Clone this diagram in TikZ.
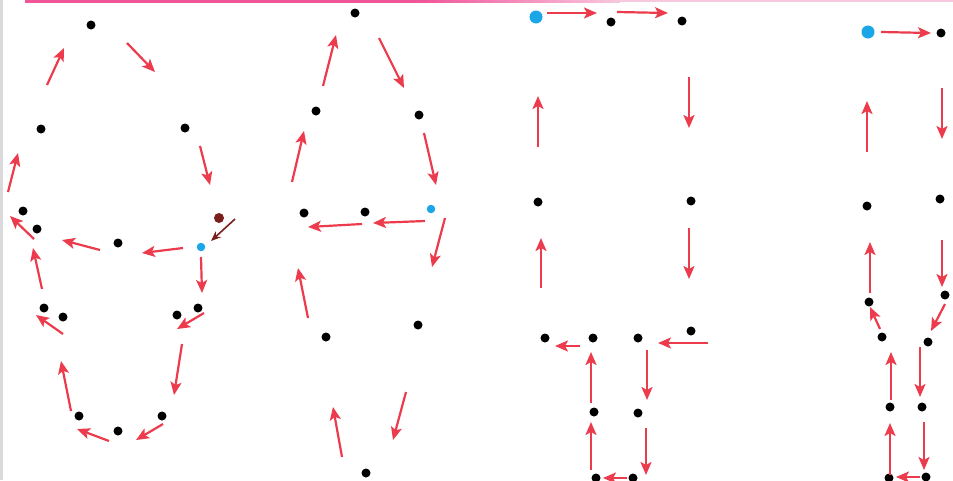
\documentclass[tikz,border=0pt]{standalone}
\usetikzlibrary{arrows.meta}
\definecolor{arrred}{HTML}{EC3B4C}
\definecolor{dotblue}{HTML}{1BA6E8}
\definecolor{dotbrown}{HTML}{7A1E1E}
\definecolor{barpink}{HTML}{F0559A}
\definecolor{barlight}{HTML}{F8C8DE}
\tikzset{
  dot/.style={circle,fill=black,inner sep=0pt,minimum size=9pt},
  bdot/.style={circle,fill=dotblue,inner sep=0pt,minimum size=8.5pt},
  bigbdot/.style={circle,fill=dotblue,inner sep=0pt,minimum size=13pt},
  brdot/.style={circle,fill=dotbrown,inner sep=0pt,minimum size=10pt},
  arr/.style={draw=arrred,line width=2.2pt,-{Stealth[length=13pt,width=11pt,inset=3pt]}},
  brarr/.style={draw=dotbrown,line width=1.6pt,-{Stealth[length=10pt,width=8pt]}}
}
\begin{document}
\begin{tikzpicture}[x=1pt,y=-1pt]
\useasboundingbox (0,0) rectangle (953,480);
\fill[white] (0,0) rectangle (953,480);
% top bar and left edge
\fill[barpink] (25,0) rectangle (420,2.5);
\shade[left color=barpink,right color=barlight] (420,0) rectangle (620,2.5);
\fill[barlight] (620,0) rectangle (953,1.5);
\fill[black!15] (0,0) rectangle (3,480);

% ===== Figure 1 =====
\node[dot] (a1) at (91,25) {};
\node[dot] (a2) at (41,129) {};
\node[dot] (a3) at (185,128) {};
\node[dot] (a4) at (23,211) {};
\node[dot] (a5) at (37,229) {};
\node[brdot] (a6) at (219,218) {};
\node[dot] (a7) at (118,243) {};
\node[bdot] (a8) at (201,247) {};
\node[dot] (a9) at (44,308) {};
\node[dot] (a10) at (63,317) {};
\node[dot] (a11) at (177,315) {};
\node[dot] (a12) at (198,308) {};
\node[dot] (a13) at (79,416) {};
\node[dot] (a14) at (162,416) {};
\node[dot] (a15) at (118,431) {};
\draw[arr] (47,85) -- (64,48);
\draw[arr] (127,43) -- (155,72);
\draw[arr] (200,146) -- (210,185);
\draw[arr] (8,192) -- (18,153);
\draw[arr] (34,239) -- (10,216);
\draw[brarr] (235,219) -- (211,241);
\draw[arr] (183,248) -- (142,253);
\draw[arr] (100,250) -- (62,240);
\draw[arr] (201,257) -- (202,293);
\draw[arr] (42,289) -- (33,248);
\draw[arr] (63,334) -- (36,315);
\draw[arr] (204,313) -- (177,329);
\draw[arr] (182,344) -- (174,395);
\draw[arr] (71,411) -- (61,361);
\draw[arr] (109,441) -- (77,429);
\draw[arr] (163,424) -- (136,440);

% ===== Figure 2 =====
\node[dot] (b1) at (355,13) {};
\node[dot] (b2) at (316,111) {};
\node[dot] (b3) at (419,115) {};
\node[dot] (b4) at (304,213) {};
\node[dot] (b5) at (365,212) {};
\node[bdot] (b6) at (431,209) {};
\node[dot] (b7) at (326,337) {};
\node[dot] (b8) at (418,325) {};
\node[dot] (b9) at (366,473) {};
\draw[arr] (323,86) -- (336,35);
\draw[arr] (379,38) -- (404,88);
\draw[arr] (424,133) -- (436,185);
\draw[arr] (292,182) -- (304,131);
\draw[arr] (425,221) -- (373,223);
\draw[arr] (362,224) -- (308,227);
\draw[arr] (445,218) -- (432,267);
\draw[arr] (308,318) -- (298,268);
\draw[arr] (406,392) -- (393,440);
\draw[arr] (342,457) -- (333,407);

% ===== Figure 3 =====
\node[bigbdot] (c1) at (536,17) {};
\node[dot] (c2) at (611,22) {};
\node[dot] (c3) at (682,21) {};
\node[dot] (c4) at (538,202) {};
\node[dot] (c5) at (691,201) {};
\node[dot] (c6) at (545,338) {};
\node[dot] (c7) at (593,338) {};
\node[dot] (c8) at (638,338) {};
\node[dot] (c9) at (691,331) {};
\node[dot] (c10) at (594,412) {};
\node[dot] (c11) at (638,413) {};
\node[dot] (c12) at (596,478) {};
\node[dot] (c13) at (633,478) {};
\draw[arr] (547,13) -- (597,13);
\draw[arr] (617,12) -- (668,13);
\draw[arr] (689,77) -- (689,128);
\draw[arr] (538,147) -- (538,96);
\draw[arr] (541,288) -- (541,238);
\draw[arr] (689,228) -- (689,279);
\draw[arr] (580,346) -- (555,346);
\draw[arr] (708,343) -- (658,343);
\draw[arr] (647,350) -- (647,400);
\draw[arr] (591,403) -- (591,352);
\draw[arr] (591,470) -- (591,422);
\draw[arr] (646,428) -- (646,475);
\draw[arr] (627,478) -- (603,478);

% ===== Figure 4 =====
\node[bigbdot] (d1) at (868,32) {};
\node[dot] (d2) at (941,33) {};
\node[dot] (d3) at (867,206) {};
\node[dot] (d4) at (940,199) {};
\node[dot] (d5) at (869,302) {};
\node[dot] (d6) at (945,295) {};
\node[dot] (d7) at (882,337) {};
\node[dot] (d8) at (928,342) {};
\node[dot] (d9) at (890,407) {};
\node[dot] (d10) at (922,407) {};
\node[dot] (d11) at (889,478) {};
\node[dot] (d12) at (926,477) {};
\draw[arr] (881,32) -- (931,33);
\draw[arr] (867,152) -- (867,101);
\draw[arr] (942,88) -- (942,139);
\draw[arr] (870,293) -- (870,242);
\draw[arr] (942,240) -- (942,287);
\draw[arr] (880,329) -- (870,307);
\draw[arr] (945,304) -- (931,331);
\draw[arr] (891,400) -- (891,352);
\draw[arr] (920,347) -- (920,397);
\draw[arr] (890,475) -- (890,423);
\draw[arr] (924,422) -- (924,470);
\draw[arr] (920,477) -- (896,477);
\end{tikzpicture}
\end{document}
